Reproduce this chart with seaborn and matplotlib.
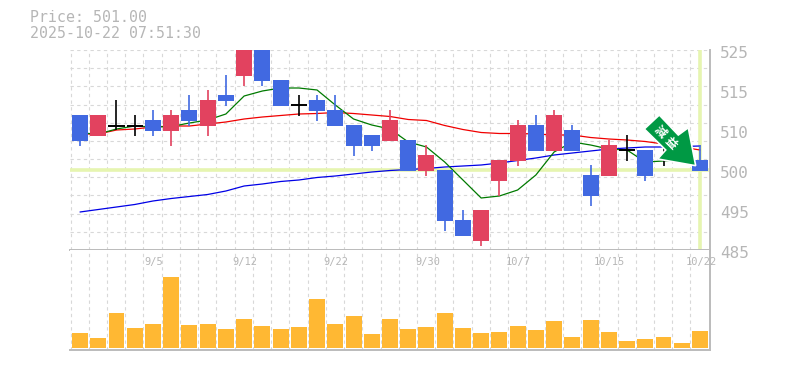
import numpy as np
import seaborn as sns
import matplotlib
matplotlib.use('Agg')
import matplotlib.pyplot as plt
from matplotlib.patches import Polygon

sns.set_style('white')
plt.rcParams['font.family'] = ['DejaVu Sans Mono', 'Noto Sans CJK JP']

# 日足データ (open, close, high, low)
opens = [512, 507.8, 509.9, 509.9, 511, 508.8, 513, 509.8, 516, 519.8, 526, 519,
         514, 515, 513, 510, 508, 506.8, 507, 500.8, 501, 491, 486.8, 498.8,
         502.8, 510, 504.8, 509, 500, 499.8, 505, 505, 508, 504, 503]
closes = [506.8, 512, 509.9, 509.9, 508.8, 512, 510.8, 515, 514.8, 526, 518.8, 513.8,
          514, 512.8, 509.8, 505.8, 505.8, 511, 500.8, 504, 490.8, 487.8, 493, 503,
          510, 504.8, 512, 504.8, 495.8, 506, 505, 499.8, 508, 503, 500.8]
highs = [512, 512, 515, 512, 513, 513, 516, 517, 520, 526, 526, 519,
         516, 516, 516, 510, 508, 513, 507, 506, 501, 493, 493, 503,
         511, 512, 513, 510, 502, 507, 508, 505, 508.5, 505, 506]
lows = [505.8, 507.8, 509, 507.8, 507.8, 505.8, 509.8, 507.8, 513.8, 517.8, 517.8, 513.8,
        511.8, 510.8, 509.8, 503.8, 504.8, 506.8, 500.8, 499.8, 488.8, 487.8, 485.8, 495.8,
        501.8, 504.8, 504.8, 504.8, 493.8, 499.8, 502.8, 498.8, 501.8, 502.5, 500.8]

# 移動平均
ma_short = [508.4, 508.2, 509.2, 509.8, 509.6, 509.7, 510.4, 511, 512.2, 515.8, 516.8, 517.4,
            517.4, 517, 514, 511.2, 510, 509.2, 506.6, 505.6, 502.6, 499, 495.4, 495.8,
            497, 500, 504.6, 506.6, 506, 505.2, 505, 502.6, 502.8, 503, 502]
ma_mid = [508.2, 508.2, 509, 509.2, 509.6, 509.8, 509.8, 510.2, 510.6, 511.2, 511.6, 511.9,
          512.2, 512.3, 512.5, 512.3, 512, 511.7, 511.1, 510.9, 509.9, 509.1, 508.5, 508.3,
          508.3, 508.2, 508, 508, 507.5, 507.2, 507, 506.7, 506.2, 505.6, 505]
ma_long = [492.6, 493.1, 493.6, 494.1, 494.8, 495.3, 495.7, 496.1, 496.8, 497.8, 498.2, 498.7,
           499, 499.5, 499.8, 500.2, 500.6, 500.9, 501.1, 501.3, 501.6, 501.8, 502, 502.4,
           502.9, 503.4, 504, 504.4, 504.8, 505.2, 505.4, 505.6, 505.6, 505.7, 505.8]

volumes = [15, 10, 35, 20, 24, 71, 23, 24, 19, 29, 22, 19, 21, 49, 24, 32, 14, 29,
           19, 21, 35, 20, 15, 16, 22, 18, 27, 11, 28, 16, 7, 9, 11, 5, 17]

date_pos = [4, 9, 14, 19, 24, 29, 34]
date_labels = ['9/5', '9/12', '9/22', '9/30', '10/7', '10/15', '10/22']
price_ticks = [525, 517, 509, 501, 493, 485]
price_labels = ['525', '515', '510', '500', '495', '485']
last_price = 501

W, H = 785, 370
RED, BLUE, GREY = '#e2425f', '#4169e1', '#b6b6b6'
idx = np.arange(len(opens))
XLIM = (-0.55, 34.55)


def frac(x, y):
    return x / W, 1 - y / H


fig = plt.figure(figsize=(W / 100, H / 100), dpi=100)
ax = fig.add_axes([70 / W, 120 / H, 640 / W, 200 / H])
ax_vol = fig.add_axes([70 / W, 20 / H, 640 / W, 100 / H])

for a in (ax, ax_vol):
    a.set_xlim(*XLIM)
    a.set_xticks(idx - 0.52)
    a.set_xticklabels([])
    a.tick_params(length=0, labelleft=False, labelbottom=False)
    a.set_axisbelow(True)
    a.grid(axis='x', color='#d8d8d8', ls=(0, (3, 3)), lw=0.8)
    for side in a.spines:
        a.spines[side].set_visible(False)
    a.spines['right'].set_visible(True)
    a.spines['right'].set_color('#bbbbbb')
    a.spines['right'].set_linewidth(1.4)
    a.spines['bottom'].set_visible(True)
    a.spines['bottom'].set_color('#bbbbbb')
    a.spines['bottom'].set_linewidth(1.4)

# 価格パネル
ax.set_ylim(485, 525)
ax.set_yticks(np.linspace(485, 525, 12))
ax.grid(axis='y', color='#d8d8d8', ls=(0, (3, 3)), lw=0.8)
ax.axhline(last_price, color='#e6f5b0', lw=2.6, zorder=1)
ax.axvline(34, color='#e6f5b0', lw=2.6, zorder=1)

for line_y, c in ((ma_long, '#0000e6'), (ma_mid, '#f00000'), (ma_short, '#007a00')):
    sns.lineplot(x=idx, y=line_y, color=c, lw=0.9, ax=ax, zorder=2)
ax.set_xlim(*XLIM)
ax.set_xlabel('')
ax.set_ylabel('')

for i in idx:
    if opens[i] == closes[i]:
        c = 'black'
        ax.hlines(opens[i], i - 0.44, i + 0.44, color=c, lw=1.4, zorder=3)
    else:
        c = RED if closes[i] > opens[i] else BLUE
        ax.bar(i, abs(closes[i] - opens[i]), bottom=min(opens[i], closes[i]),
               width=0.875, color=c, lw=0, zorder=3)
    ax.vlines(i, lows[i], highs[i], color=c, lw=1.2, zorder=3)

for val, lab in zip(price_ticks, price_labels):
    ax.annotate(lab, xy=(1, val), xycoords=ax.get_yaxis_transform(), xytext=(10, -3),
                textcoords='offset pixels', va='center', ha='left', color=GREY,
                fontsize=11.5, annotation_clip=False)

# 出来高パネル
ax_vol.set_ylim(-2, 98)
sns.barplot(x=idx, y=volumes, color='#ffb833', saturation=1, width=0.875, native_scale=True,
            ax=ax_vol, lw=0, zorder=3)
ax_vol.set_xlim(*XLIM)
ax_vol.set_xlabel('')
ax_vol.set_ylabel('')
for pos, lab in zip(date_pos, date_labels):
    ax_vol.annotate(lab, xy=(pos, 1), xycoords=ax_vol.get_xaxis_transform(), xytext=(1, -12),
                    textcoords='offset pixels', va='center', ha='center', color=GREY,
                    fontsize=7.5, annotation_clip=False, zorder=5)

# タイトル
fig.text(*frac(30, 18), 'Price: 501.00', color=GREY, fontsize=10.7, va='center', ha='left')
fig.text(*frac(30, 33), '2025-10-22 07:51:30', color=GREY, fontsize=10.7, va='center', ha='left')

# 減益マーク
arrow_px = [(659.3, 115), (644.3, 129), (665.7, 150), (657.7, 159), (695.7, 165.7),
            (688.3, 127.7), (678.3, 135)]
fig.add_artist(Polygon([frac(*p) for p in arrow_px], closed=True, transform=fig.transFigure,
                       facecolor='#009944', edgecolor='white', lw=1.2, joinstyle='miter', zorder=10))
for ch, (px, py) in zip('減益', [(660, 132), (671, 143)]):
    fig.text(*frac(px, py), ch, color='white', fontsize=8.5, fontweight='bold', rotation=-45,
             rotation_mode='anchor', va='center', ha='center', family=['Noto Sans CJK JP'], zorder=11)

fig.savefig('out.png', dpi=100, facecolor='white')
